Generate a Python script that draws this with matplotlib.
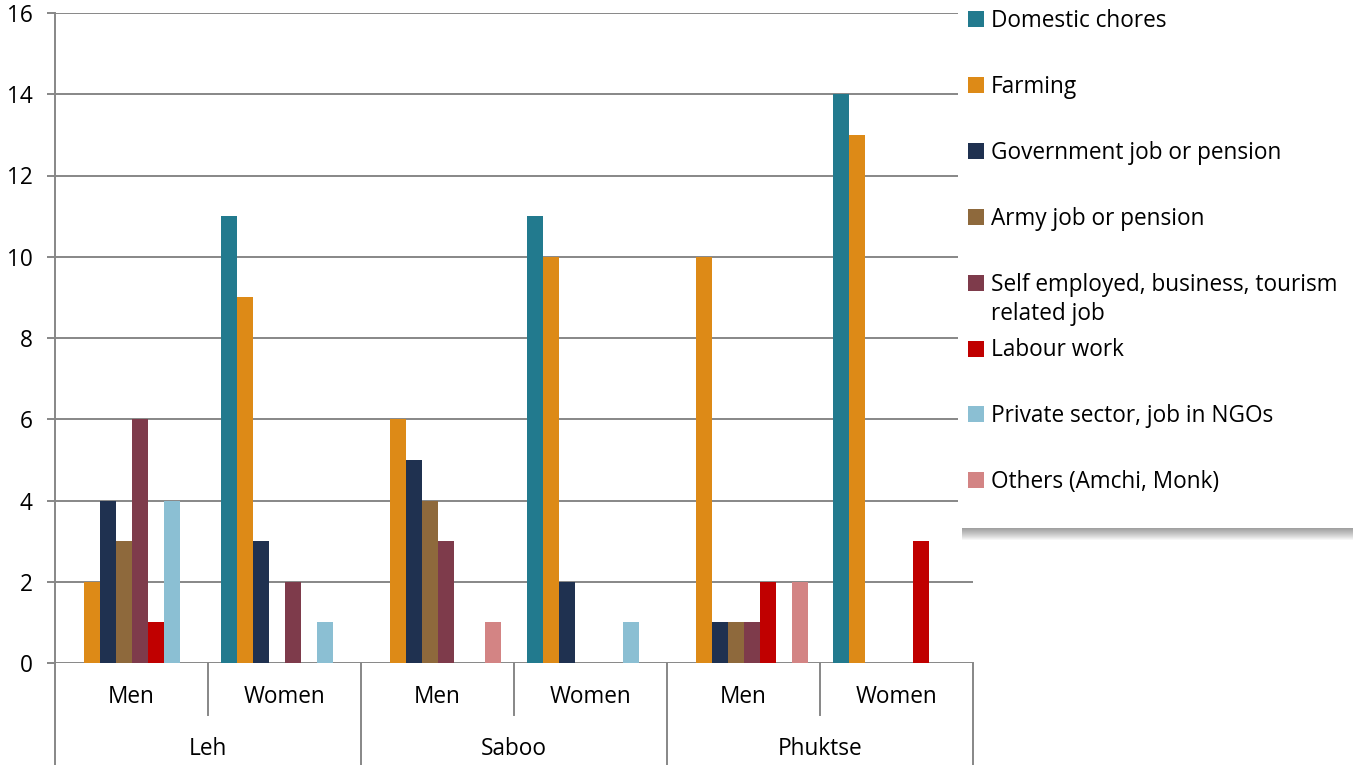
import numpy as np
import matplotlib
matplotlib.use('Agg')
import matplotlib.pyplot as plt
from matplotlib.patches import Rectangle

######################################################################
# Data
######################################################################
places = ['Leh', 'Saboo', 'Phuktse']
genders = ['Men', 'Women']

series = ['Domestic chores', 'Farming', 'Government job or pension',
          'Army job or pension', 'Self employed, business, tourism\nrelated job',
          'Labour work', 'Private sector, job in NGOs', 'Others (Amchi, Monk)']
colors = ['#227a8e', '#dd8a17', '#1f3150', '#8e693c', '#7e3b4b',
          '#c00000', '#8bbfd3', '#d38484']

# one list per series, in order Leh M, Leh W, Saboo M, Saboo W, Phuktse M, Phuktse W
domestic = [0, 11, 0, 11, 0, 14]
farming = [2, 9, 6, 10, 10, 13]
government = [4, 3, 5, 2, 1, 0]
army = [3, 0, 4, 0, 1, 0]
self_employed = [6, 2, 3, 0, 1, 0]
labour = [1, 0, 0, 0, 2, 3]
private = [4, 1, 0, 1, 0, 0]
others = [0, 0, 1, 0, 2, 0]

values = [domestic, farming, government, army, self_employed, labour, private, others]

######################################################################
# Figure
######################################################################
W, H = 1353, 765
FONT = 'Open Sans'
FS = 16.3
plt.rcParams['font.family'] = [FONT, 'DejaVu Sans']
grey = '#878787'

fig = plt.figure(figsize=(W / 100, H / 100), dpi=100)
ax = fig.add_axes([55 / W, 1 - 663 / H, (973 - 55) / W, (663 - 13) / H])

n_groups = len(places) * len(genders)
x = np.arange(n_groups)
bw = 16 / 153
for i, (vals, col) in enumerate(zip(values, colors)):
    ax.bar(x - 0.5 + (12.5 + 16 * i) / 153, vals, width=bw, align='edge',
           color=col, linewidth=0, zorder=3)

ax.set_xlim(-0.5, n_groups - 0.5)
ax.set_ylim(0, 16)
ax.set_yticks(np.arange(0, 17, 2))
ax.yaxis.grid(True, color=grey, linewidth=1.4, zorder=0)
ax.tick_params(axis='y', length=6, width=1.4, color=grey, pad=10, labelsize=FS)
ax.set_xticks([])
for s in ['top', 'right', 'bottom']:
    ax.spines[s].set_visible(False)
ax.spines['left'].set_color(grey)
ax.spines['left'].set_linewidth(1.4)

# multi-level category axis
tr = ax.get_xaxis_transform()
y_mid = -(715 - 663) / 650
y_bot = -(765 - 663) / 650
for k in range(n_groups + 1):
    xb = k - 0.5
    low = y_bot if k % 2 == 0 else y_mid
    ax.plot([xb, xb], [0, low], color=grey, lw=1.4, transform=tr, clip_on=False)
for k in range(n_groups):
    ax.text(k, -(697 - 663) / 650, genders[k % 2], transform=tr,
            ha='center', va='center', fontsize=FS)
for j, p in enumerate(places):
    ax.text(2 * j + 0.5, -(749 - 663) / 650, p, transform=tr,
            ha='center', va='center', fontsize=FS)

# legend panel with soft shadow at the bottom
for d in range(1, 13):
    fig.patches.append(Rectangle((962 / W, (H - 528 - d) / H), (W - 962) / W, (528 - 20) / H,
                                 transform=fig.transFigure, facecolor='black',
                                 alpha=0.035, edgecolor='none', zorder=4))
fig.patches.append(Rectangle((958 / W, (H - 528) / H), (W - 958) / W, 528 / H,
                             transform=fig.transFigure, facecolor='white',
                             edgecolor='none', zorder=5))
for i, (name, col) in enumerate(zip(series, colors)):
    yc = 19 + 65.9 * i
    fig.patches.append(Rectangle((968 / W, (H - yc - 8) / H), 16 / W, 16 / H,
                                 transform=fig.transFigure, facecolor=col,
                                 edgecolor='none', zorder=6))
    fig.text(991 / W, (H - yc + 10) / H, name, ha='left', va='top', fontsize=FS,
             linespacing=1.3, zorder=7)

fig.savefig('out.png', dpi=100)
